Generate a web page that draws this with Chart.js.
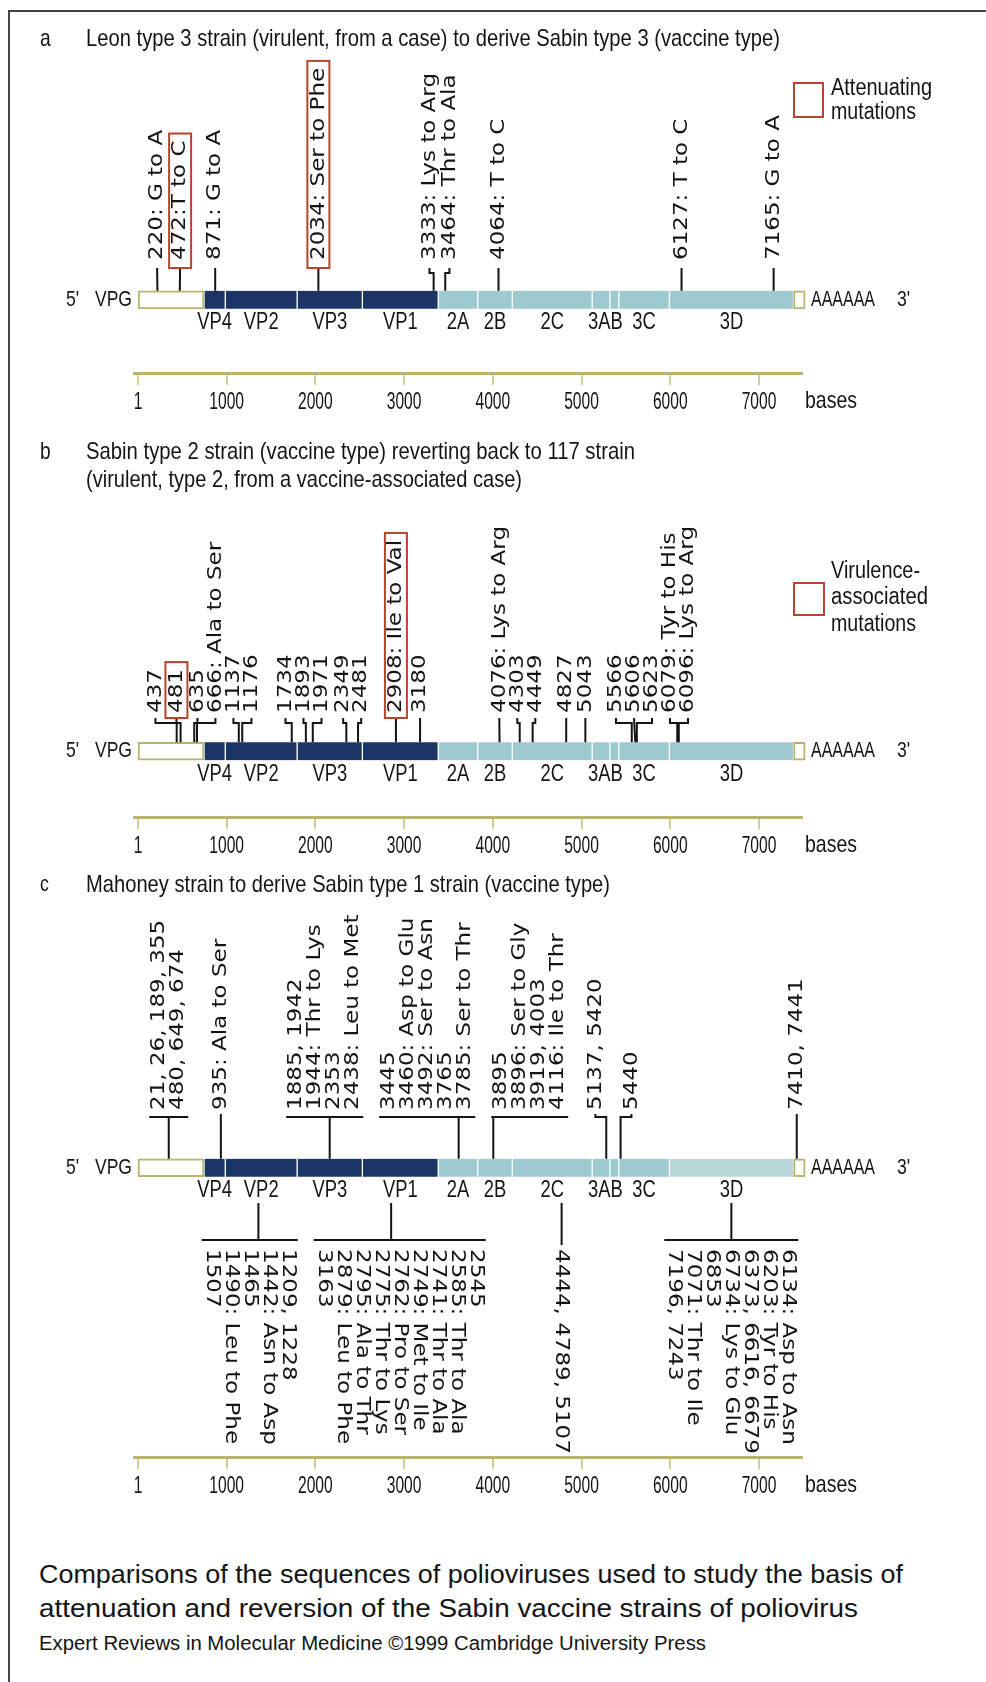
<!DOCTYPE html>
<html>
<head>
<meta charset="utf-8">
<script src="https://cdn.jsdelivr.net/npm/chart.js@4.4.1/dist/chart.umd.min.js"></script>
<style>
  body { margin: 0; background: #fff; }
  #page { position: relative; width: 986px; height: 1682px; overflow: hidden; background: #fff; }
  #frame { position: absolute; left: 8px; top: 10px; right: -4px; bottom: -4px; border-left: 2px solid #444; border-top: 2px solid #444; }
  canvas { position: absolute; left: 0; }
  .cap { position: absolute; left: 39px; white-space: nowrap; font-family: "Liberation Sans", Arial, sans-serif; color: #141414; line-height: 1.2; transform-origin: 0 50%; }
</style>
</head>
<body>
<div id="page">
  <div id="frame"></div>
  <canvas id="panelA" width="986" height="425" style="top:0px"></canvas>
  <canvas id="panelB" width="986" height="444" style="top:425px"></canvas>
  <canvas id="panelC" width="986" height="640" style="top:869px"></canvas>
  <div class="cap" data-w="864" style="top:1559px;font-size:26px">Comparisons of the sequences of polioviruses used to study the basis of</div>
  <div class="cap" data-w="819" style="top:1593px;font-size:26px">attenuation and reversion of the Sabin vaccine strains of poliovirus</div>
  <div class="cap" data-w="667" style="top:1631px;font-size:20px">Expert Reviews in Molecular Medicine ©1999 Cambridge University Press</div>
</div>
<script>
// genome map in bases
const segNames = ["5'UTR", 'VP4', 'VP2', 'VP3', 'VP1', '2A', '2B', '2C', '3A', '3B', '3C', '3D', "3'UTR"];
const segStart = [1, 745, 985, 1795, 2530, 3385, 3830, 4220, 5120, 5320, 5420, 5990, 7390];
const segEnd   = [745, 985, 1795, 2530, 3385, 3830, 4220, 5120, 5320, 5420, 5990, 7390, 7520];
const regionLabels = ['VP4', 'VP2', 'VP3', 'VP1', '2A', '2B', '2C', '3AB', '3C', '3D'];
const regionFrom   = ['VP4', 'VP2', 'VP3', 'VP1', '2A', '2B', '2C', '3A', '3C', '3D'];
const regionTo     = ['VP4', 'VP2', 'VP3', 'VP1', '2A', '2B', '2C', '3B', '3C', '3D'];
const baseTicks = [1, 1000, 2000, 3000, 4000, 5000, 6000, 7000];

// a: Leon -> Sabin 3
const mutPosA = [220, 472, 871, 2034, 3333, 3464, 4064, 6127, 7165];
const mutTextA = ['220: G to A', '472:T to C', '871: G to A', '2034: Ser to Phe', '3333: Lys to Arg',
                  '3464: Thr to Ala', '4064: T to C', '6127: T to C', '7165: G to A'];
const markedA = [472, 2034];

// b: Sabin 2 -> 117
const mutPosB = [437, 481, 635, 666, 1137, 1176, 1734, 1893, 1971, 2349, 2481, 2908, 3180,
                 4076, 4303, 4449, 4827, 5043, 5566, 5606, 5623, 6079, 6096];
const mutTextB = ['437', '481', '635', '666: Ala to Ser', '1137', '1176', '1734', '1893', '1971', '2349', '2481',
                  '2908: Ile to Val', '3180', '4076: Lys to Arg', '4303', '4449', '4827', '5043', '5566', '5606',
                  '5623', '6079: Tyr to His', '6096: Lys to Arg'];
const markedB = [481, 2908];

// c: Mahoney -> Sabin 1 (grouped)
const upperPosC = [[21, 26, 189, 355, 480, 649, 674], [935], [1885, 1942, 1944, 2353, 2438],
                   [3445, 3460, 3492, 3765, 3785], [3895, 3896, 3919, 4003, 4116], [5137, 5420], [5440], [7410, 7441]];
const upperTextC = [['21, 26, 189, 355', '480, 649, 674'], ['935: Ala to Ser'],
                    ['1885, 1942', '1944: Thr to Lys', '2353', '2438: Leu to Met'],
                    ['3445', '3460: Asp to Glu', '3492: Ser to Asn', '3765', '3785: Ser to Thr'],
                    ['3895', '3896: Ser to Gly', '3919, 4003', '4116: Ile to Thr'],
                    ['5137, 5420'], ['5440'], ['7410, 7441']];
const lowerPosC = [[1209, 1228, 1442, 1465, 1490, 1507], [2545, 2585, 2741, 2749, 2762, 2775, 2795, 2879, 3163],
                   [4444, 4789, 5107], [6134, 6203, 6373, 6616, 6679, 6734, 6853, 7071, 7196, 7243]];
const lowerTextC = [['1209, 1228', '1442: Asn to Asp', '1465', '1490: Leu to Phe', '1507'],
                    ['2545', '2585: Thr to Ala', '2741: Thr to Ala', '2749: Met to Ile', '2762: Pro to Ser',
                     '2775: Thr to Lys', '2795: Ala to Thr', '2879: Leu to Phe', '3163'],
                    ['4444, 4789, 5107'],
                    ['6134: Asp to Asn', '6203: Tyr to His', '6373, 6616, 6679', '6734: Lys to Glu', '6853',
                     '7071: Thr to Ile', '7196, 7243']];

const OLIVE = '#b8b46c', TICK = '#d2cf93', NAVY = '#1b3566', TEAL = '#9dcacf', TEAL_LIGHT = '#b9d6d8';
const RED = '#b9442c', INK = '#141414';
const ROT_FONT = '20px "DejaVu Sans"', STRETCH = 1.15;

function segFill(name, light3D) {
  if (name.includes('UTR')) return '#ffffff';
  if (name.startsWith('VP')) return NAVY;
  if (light3D && name === '3D') return TEAL_LIGHT;
  return TEAL;
}

// condensed text helpers
function cText(ctx, text, x, y, size, sx, align) {
  ctx.save();
  ctx.font = size + 'px "Liberation Sans"';
  ctx.textBaseline = 'middle';
  ctx.fillStyle = INK;
  const w = ctx.measureText(text).width * sx;
  const x0 = align === 'center' ? x - w / 2 : align === 'right' ? x - w : x;
  ctx.translate(x0, y);
  ctx.scale(sx, 1);
  ctx.textAlign = 'left';
  ctx.fillText(text, 0, 0);
  ctx.restore();
}
function fitText(ctx, text, x, y, size, width) {
  ctx.save();
  ctx.font = size + 'px "Liberation Sans"';
  const sx = width / ctx.measureText(text).width;
  ctx.restore();
  cText(ctx, text, x, y, size, sx, 'left');
}
function rotText(ctx, text, x, y, dir) {
  ctx.save();
  ctx.translate(x, y);
  ctx.rotate(dir * Math.PI / 2);
  ctx.scale(STRETCH, 1);
  ctx.font = ROT_FONT;
  ctx.textAlign = 'left';
  ctx.textBaseline = 'middle';
  ctx.fillStyle = INK;
  ctx.fillText(text, 0, 0);
  ctx.restore();
}
function rotLen(ctx, text) {
  ctx.save();
  ctx.font = ROT_FONT;
  const w = ctx.measureText(text).width * STRETCH;
  ctx.restore();
  return w;
}

// push overlapping labels apart, keeping each cluster centred on its marks
function spread(items, gap) {
  const clusters = [];
  const place = cl => {
    let off = 0, sum = 0;
    cl.items.forEach(it => { it.o = off + it.w / 2; off += it.w + gap; sum += it.c - it.o; });
    const s = sum / cl.items.length;
    cl.items.forEach(it => { it.x = s + it.o; });
    cl.left = s; cl.right = s + off - gap;
  };
  items.forEach(it => {
    const cl = { items: [it] };
    place(cl);
    clusters.push(cl);
    while (clusters.length > 1) {
      const b = clusters[clusters.length - 1], a = clusters[clusters.length - 2];
      if (a.right + gap <= b.left) break;
      a.items = a.items.concat(b.items);
      clusters.pop();
      place(a);
    }
  });
  return items;
}

function geo(chart, barD) {
  const y = chart.scales.y.getPixelForValue(barD);
  return { axis: chart.chartArea.bottom, y: y, top: y - 9, bottom: y + 9 };
}

function genomeText(chart, L) {
  const ctx = chart.ctx, xs = chart.scales.x;
  cText(ctx, "5'", 66, L.y, 22, 0.8);
  fitText(ctx, 'VPG', 95, L.y, 22, 37);
  fitText(ctx, 'AAAAAA', 811, L.y, 22, 64);
  cText(ctx, "3'", 897, L.y, 22, 0.8);
  regionLabels.forEach((lab, i) => {
    const a = segStart[segNames.indexOf(regionFrom[i])], b = segEnd[segNames.indexOf(regionTo[i])];
    cText(ctx, lab, xs.getPixelForValue((a + b) / 2), L.bottom + 14, 23, 0.8, 'center');
  });
  xs.ticks.forEach(t => cText(ctx, String(t.value), xs.getPixelForValue(t.value), L.axis + 29, 24, 0.65, 'center'));
  fitText(ctx, 'bases', 805, L.axis + 28, 24, 52);
}

function legendBox(ctx, box, lines, ys, widths) {
  ctx.save();
  ctx.strokeStyle = RED;
  ctx.lineWidth = 2;
  ctx.strokeRect(box[0], box[1], box[2], box[3]);
  ctx.restore();
  lines.forEach((t, i) => fitText(ctx, t, 831, ys[i], 23, widths[i]));
}

function singles(chart, L, pos, texts, marked, o) {
  const ctx = chart.ctx, xs = chart.scales.x;
  const items = pos.map((p, i) => ({ c: xs.getPixelForValue(p), w: marked.includes(p) ? 22 : 16, i: i, boxed: marked.includes(p) }));
  spread(items, o.gap);
  items.forEach(it => {
    const t = texts[it.i];
    rotText(ctx, t, it.x, o.labelBottom, -1);
    ctx.save();
    ctx.strokeStyle = INK;
    ctx.lineWidth = 2;
    ctx.beginPath();
    ctx.moveTo(it.x, o.lineStart);
    if (Math.abs(it.x - it.c) > 1.5) {
      ctx.lineTo(it.x, o.lineStart + 5);
      ctx.lineTo(it.c, o.lineStart + 5);
    }
    ctx.lineTo(it.c, L.top);
    ctx.stroke();
    if (it.boxed) {
      const len = rotLen(ctx, t);
      ctx.strokeStyle = RED;
      ctx.strokeRect(it.x - 11, o.labelBottom - len - 7, 22, len + 7 + (o.lineStart - o.labelBottom));
    }
    ctx.restore();
  });
}

function groups(chart, L, posG, textG, dir, o) {
  const ctx = chart.ctx, xs = chart.scales.x;
  const items = posG.map((g, i) => ({
    c: xs.getPixelForValue((Math.min(...g) + Math.max(...g)) / 2),
    w: (textG[i].length - 1) * o.lh + 16, i: i
  }));
  spread(items, o.gap);
  items.forEach(it => {
    const lines = textG[it.i], left = it.x - it.w / 2, right = it.x + it.w / 2;
    lines.forEach((t, k) => rotText(ctx, t, dir < 0 ? left + 8 + k * o.lh : right - 8 - k * o.lh, o.textStart, dir));
    ctx.save();
    ctx.strokeStyle = INK;
    ctx.lineWidth = 2;
    ctx.beginPath();
    if (lines.length > 1) {
      ctx.moveTo(Math.min(left - 2, it.c), o.bracket);
      ctx.lineTo(Math.max(right + 2, it.c), o.bracket);
      ctx.moveTo(it.c, o.bracket);
    } else {
      ctx.moveTo(it.x, o.textStart - dir * 4);
      ctx.lineTo(it.x, o.bracket);
      ctx.lineTo(it.c, o.bracket);
    }
    ctx.lineTo(it.c, o.end);
    ctx.stroke();
    ctx.restore();
  });
}

function makeChart(id, canvasH, barD, light3D, draw) {
  return new Chart(document.getElementById(id), {
    type: 'bar',
    data: {
      datasets: [{
        data: segNames.map((n, i) => ({ x: [segStart[i], segEnd[i]], y: barD })),
        backgroundColor: segNames.map(n => segFill(n, light3D)),
        borderColor: segNames.map(n => n.includes('UTR') ? OLIVE : '#ffffff'),
        borderWidth: c => {
          const n = segNames[c.dataIndex] || '';
          return n.includes('UTR') ? 2 : { left: 1, right: 1, top: 0, bottom: 0 };
        },
        borderSkipped: false,
        barThickness: 18,
        clip: false
      }]
    },
    options: {
      indexAxis: 'y',
      responsive: false,
      animation: false,
      events: [],
      layout: { padding: { left: 134.98, right: 184.06, top: 0, bottom: 0 } },
      plugins: { legend: { display: false }, tooltip: { enabled: false } },
      scales: {
        x: {
          type: 'linear', position: 'bottom', min: -33, max: 7484,
          afterBuildTicks: s => { s.ticks = baseTicks.map(v => ({ value: v })); },
          afterFit: s => { s.height = 52; },
          grid: { drawOnChartArea: false, drawTicks: true, tickLength: 12, color: TICK, lineWidth: 2 },
          border: { display: true, color: OLIVE, width: 3 },
          ticks: { display: false }
        },
        y: { type: 'linear', display: false, min: 0, max: canvasH - 52 }
      }
    },
    plugins: [{ id: 'annot_' + id, afterDraw: draw }]
  });
}

makeChart('panelA', 425, 59, false, chart => {
  const ctx = chart.ctx, L = geo(chart, 59);
  cText(ctx, 'a', 40, 39, 24, 0.8);
  fitText(ctx, 'Leon type 3 strain (virulent, from a case) to derive Sabin type 3 (vaccine type)', 86, 39, 24, 694);
  legendBox(ctx, [794, 83, 29, 34], ['Attenuating', 'mutations'], [89, 113], [101, 85]);
  genomeText(chart, L);
  singles(chart, L, mutPosA, mutTextA, markedA, { labelBottom: 260, lineStart: 268, gap: 4 });
});

makeChart('panelB', 444, 49.5, false, chart => {
  const ctx = chart.ctx, L = geo(chart, 49.5);
  cText(ctx, 'b', 40, 27, 24, 0.8);
  fitText(ctx, 'Sabin type 2 strain (vaccine type) reverting back to 117 strain', 86, 27, 24, 549);
  fitText(ctx, '(virulent, type 2, from a vaccine-associated case)', 86, 55, 24, 436);
  legendBox(ctx, [794, 158, 30, 32], ['Virulence-', 'associated', 'mutations'], [147, 173, 200], [89, 97, 85]);
  genomeText(chart, L);
  singles(chart, L, mutPosB, mutTextB, markedB, { labelBottom: 288, lineStart: 293, gap: 2 });
});

makeChart('panelC', 640, 288.5, true, chart => {
  const ctx = chart.ctx, L = geo(chart, 288.5);
  cText(ctx, 'c', 40, 16, 22, 0.8);
  fitText(ctx, 'Mahoney strain to derive Sabin type 1 strain (vaccine type)', 86, 16, 24, 524);
  genomeText(chart, L);
  groups(chart, L, upperPosC, upperTextC, -1, { lh: 19, gap: 20, textStart: 241, bracket: 248, end: L.top });
  groups(chart, L, lowerPosC, lowerTextC, 1, { lh: 19, gap: 20, textStart: 380, bracket: 371, end: 334 });
});

// condensed caption lines
document.querySelectorAll('.cap').forEach(el => {
  const w = el.getBoundingClientRect().width;
  el.style.transform = 'scaleX(' + (Number(el.dataset.w) / w) + ')';
});
</script>
</body>
</html>
